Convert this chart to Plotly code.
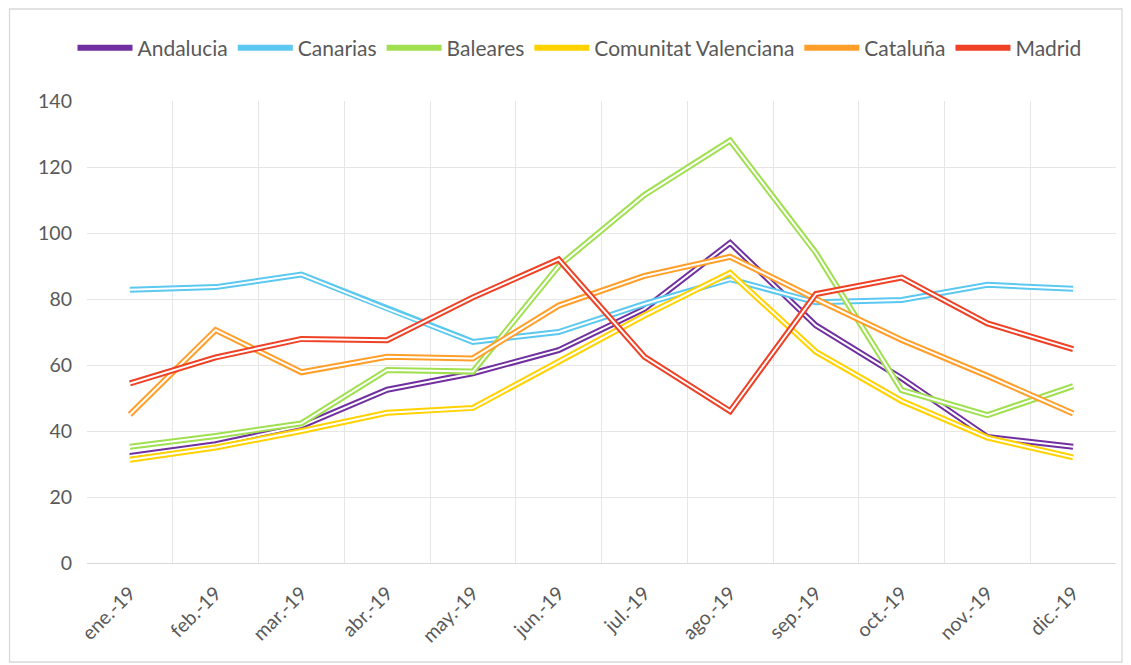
import plotly.graph_objects as go

months = ["ene.-19", "feb.-19", "mar.-19", "abr.-19", "may.-19", "jun.-19",
          "jul.-19", "ago.-19", "sep.-19", "oct.-19", "nov.-19", "dic.-19"]

andalucia = [32.4, 36.0, 41.5, 52.5, 57.5, 64.5, 77.0, 97.0, 72.0, 56.0, 38.2, 35.2]
canarias = [82.8, 83.6, 87.4, 77.0, 67.0, 70.0, 78.5, 86.0, 79.0, 79.7, 84.3, 83.1]
baleares = [35.2, 38.5, 42.3, 58.5, 58.0, 90.0, 111.5, 128.0, 94.0, 52.4, 44.8, 53.6]
valenciana = [31.3, 35.0, 40.0, 45.5, 47.0, 61.0, 75.0, 87.9, 64.0, 49.1, 38.0, 32.0]
cataluna = [45.0, 70.6, 57.8, 62.5, 62.0, 78.0, 87.0, 92.8, 80.0, 67.6, 56.7, 45.3]
madrid = [54.4, 62.3, 67.9, 67.5, 80.5, 92.0, 62.5, 46.0, 81.5, 86.5, 72.6, 64.8]

series = [
    ("Andalucia", andalucia, "#7030A0"),
    ("Canarias", canarias, "#5BC8F0"),
    ("Baleares", baleares, "#A0E050"),
    ("Comunitat Valenciana", valenciana, "#FFD200"),
    ("Cataluña", cataluna, "#FF9F2A"),
    ("Madrid", madrid, "#EE4125"),
]

FONT = "Lato, Carlito, Calibri, sans-serif"
TXT = "#595959"

fig = go.Figure()
for name, vals, col in series:
    fig.add_trace(go.Scatter(x=months, y=vals, mode="lines", name=name,
                             line=dict(color=col, width=6)))
    fig.add_trace(go.Scatter(x=months, y=vals, mode="lines", showlegend=False,
                             hoverinfo="skip", line=dict(color="white", width=2)))

# page body has an 8px default offset in the browser
OFF = 8
W, H = 1131, 665
ml, mr, mt, mb = 86.5 - OFF, 15 + OFF, 101 - OFF, 102 + OFF
pw, ph = W - ml - mr, H - mt - mb

def px_x(p):
    return (p - OFF - ml) / pw

def px_y(p):
    return (H - mb - (p - OFF)) / ph

fig.update_layout(
    width=W, height=H,
    margin=dict(l=ml, r=mr, t=mt, b=mb, autoexpand=False),
    paper_bgcolor="white", plot_bgcolor="white",
    font=dict(family=FONT, size=19, color=TXT),
    legend=dict(orientation="h", x=px_x(72), xanchor="left", y=px_y(48), yanchor="middle",
                font=dict(family=FONT, size=21, color=TXT), itemwidth=55,
                tracegroupgap=0),
    xaxis=dict(type="category", tickson="boundaries", range=[-0.5, 11.5],
               showgrid=True, gridcolor="#E6E6E6", gridwidth=1.3, tickangle=-45,
               ticks="", showline=True, linecolor="#D9D9D9", linewidth=1.3,
               tickfont=dict(family=FONT, size=19.5, color=TXT), ticklabelstandoff=10),
    yaxis=dict(range=[0, 140], dtick=20, showgrid=True, gridcolor="#E6E6E6",
               gridwidth=1.3, zeroline=False, showline=False, ticks="",
               tickfont=dict(family=FONT, size=19.5, color=TXT), ticklabelstandoff=14),
    shapes=[dict(type="rect", xref="paper", yref="paper",
                 x0=px_x(9), x1=px_x(1122), y0=px_y(662), y1=px_y(9),
                 line=dict(color="#D9D9D9", width=1.3), layer="below")],
    showlegend=True,
)

fig.write_html("out.html")
